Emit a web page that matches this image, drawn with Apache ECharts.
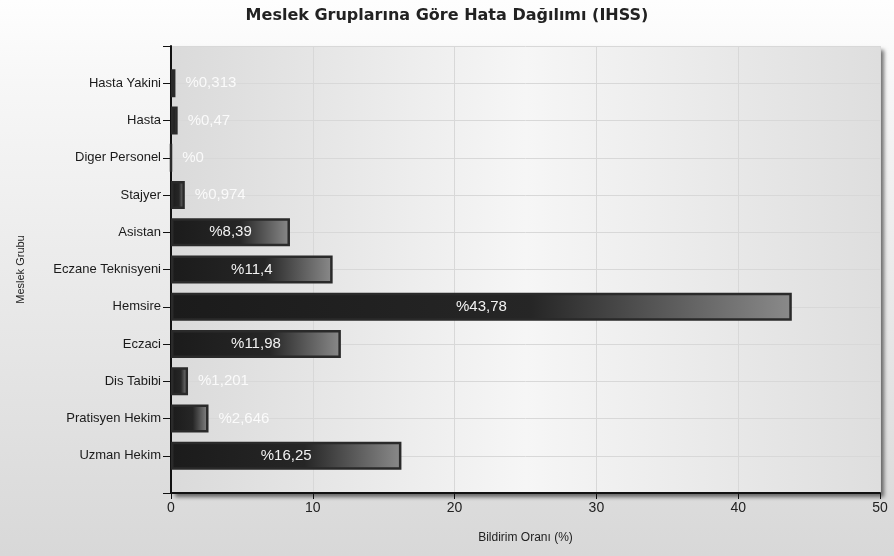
<!DOCTYPE html>
<html>
<head>
<meta charset="utf-8">
<script src="https://cdn.jsdelivr.net/npm/echarts@6/dist/echarts.min.js"></script>
<style>
  html, body { margin: 0; padding: 0; }
  #chart { width: 894px; height: 556px; }
</style>
</head>
<body>
<div id="chart"></div>
<script>
// Occupational groups, listed top to bottom
const categories = [
  'Hasta Yakini', 'Hasta', 'Diger Personel', 'Stajyer', 'Asistan',
  'Eczane Teknisyeni', 'Hemsire', 'Eczaci', 'Dis Tabibi',
  'Pratisyen Hekim', 'Uzman Hekim'
];
// Reporting share (%) per group
const values = [0.313, 0.47, 0, 0.974, 8.39, 11.4, 43.78, 11.98, 1.201, 2.646, 16.25];
const xTicks = [0, 10, 20, 30, 40, 50];

const titleText = 'Meslek Gruplarına Göre Hata Dağılımı (IHSS)';
const xName = 'Bildirim Oranı (%)';
const yName = 'Meslek Grubu';

const fmt = v => '%' + String(v).replace('.', ',');

// blank slots at both ends give the half-band padding above and below
const axisCats = [''].concat(categories, ['']);

const barFill = {
  type: 'linear', x: 0, y: 0, x2: 1, y2: 0,
  colorStops: [
    { offset: 0, color: '#1b1b1b' },
    { offset: 0.58, color: '#262626' },
    { offset: 1, color: '#8a8a8a' }
  ]
};

const seriesData = [null].concat(values.map(v => ({
  value: v,
  label: v >= 5
    ? { position: 'inside', color: '#f2f2f2' }
    : { position: 'right', distance: 10, color: 'rgba(255,255,255,0.85)' }
})), [null]);

const chart = echarts.init(document.getElementById('chart'));
chart.setOption({
  animation: false,
  backgroundColor: {
    type: 'linear', x: 0, y: 0, x2: 0, y2: 1,
    colorStops: [
      { offset: 0, color: '#fefefe' },
      { offset: 0.15, color: '#f7f7f7' },
      { offset: 1, color: '#d8d8d8' }
    ]
  },
  textStyle: { fontFamily: 'Liberation Sans, Arial, sans-serif' },
  title: {
    text: titleText,
    left: 'center',
    top: 3,
    textStyle: {
      fontFamily: 'DejaVu Sans, sans-serif',
      fontSize: 16, fontWeight: 'bold', color: '#222'
    }
  },
  grid: {
    left: 171, right: 14, top: 46, bottom: 63,
    show: true,
    borderWidth: 0,
    backgroundColor: {
      type: 'linear', x: 0, y: 0, x2: 1, y2: 0,
      colorStops: [
        { offset: 0, color: '#dadada' },
        { offset: 0.5, color: '#f6f6f6' },
        { offset: 1, color: '#dedede' }
      ]
    },
    shadowColor: 'rgba(0,0,0,0.55)',
    shadowBlur: 4,
    shadowOffsetX: 4,
    shadowOffsetY: 4
  },
  xAxis: {
    type: 'value',
    min: xTicks[0],
    max: xTicks[xTicks.length - 1],
    interval: 10,
    name: xName,
    nameLocation: 'middle',
    nameGap: 39,
    nameTextStyle: { fontSize: 12, color: '#222' },
    axisLine: { show: true, lineStyle: { color: '#111', width: 2 } },
    axisTick: { show: true, length: 6, lineStyle: { color: '#111', width: 1 } },
    axisLabel: { fontSize: 14, color: '#222', margin: 8 },
    splitLine: { show: true, lineStyle: { color: '#d8d8d8', width: 1 } }
  },
  yAxis: {
    type: 'category',
    data: axisCats,
    inverse: true,
    boundaryGap: false,
    name: yName,
    nameLocation: 'middle',
    nameGap: 145,
    nameTextStyle: { fontSize: 11, color: '#222' },
    axisLine: { show: true, lineStyle: { color: '#111', width: 2 } },
    axisTick: { show: true, length: 8, lineStyle: { color: '#111', width: 1 } },
    axisLabel: { fontSize: 13, color: '#1a1a1a', margin: 10 },
    splitLine: { show: true, lineStyle: { color: '#d8d8d8', width: 1 } }
  },
  series: [{
    type: 'bar',
    data: seriesData,
    barWidth: 28,
    itemStyle: {
      color: barFill,
      borderColor: '#2a2a2a',
      borderWidth: 2.5
    },
    label: {
      show: true,
      fontSize: 15,
      formatter: p => fmt(p.value)
    }
  }]
});
</script>
</body>
</html>
